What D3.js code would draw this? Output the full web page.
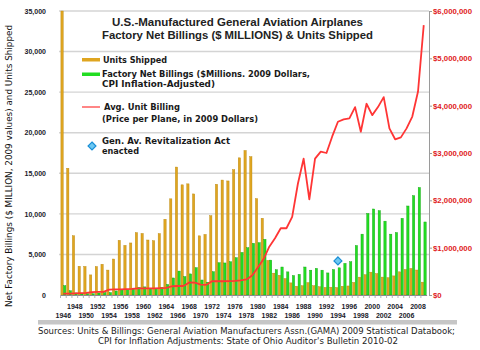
<!DOCTYPE html>
<html>
<head>
<meta charset="utf-8">
<script src="https://cdn.jsdelivr.net/npm/d3@7"></script>
<style>
  body { margin: 0; background: #fff; }
  svg { display: block; }
</style>
</head>
<body>
<script>
// years shown on the x axis
const years = [1946,1947,1948,1949,1950,1951,1952,1953,1954,1955,1956,1957,1958,1959,
  1960,1961,1962,1963,1964,1965,1966,1967,1968,1969,1970,1971,1972,1973,1974,1975,
  1976,1977,1978,1979,1980,1981,1982,1983,1984,1985,1986,1987,1988,1989,1990,1991,
  1992,1993,1994,1995,1996,1997,1998,1999,2000,2001,2002,2003,2004,2005,2006,2007,
  2008,2009];

// units shipped
const unitsShipped = [35000,15617,7302,3545,3520,2477,3509,3788,3071,4434,6738,6118,
  6414,7689,7588,6778,6697,7569,9336,11852,15768,13577,13698,12457,7292,7466,9774,
  13646,14166,14056,15451,16904,17811,17048,11877,9457,4266,2691,2431,2029,1495,1085,
  1143,1535,1144,1021,941,964,928,1077,1115,1549,2200,2504,2816,2634,2207,2137,2355,
  2857,3147,3279,3079,1585];

// factory net billings, $ millions (2009 dollars)
const netBillings = [1150,520,250,180,180,150,250,300,300,500,650,650,750,950,1000,750,
  800,950,1300,2100,2950,2270,2600,3370,1850,1580,2870,3980,3950,4100,4600,5250,5830,
  6370,6450,6860,4300,3120,3450,2850,2400,2550,3450,3060,3280,3060,2720,3140,3350,3900,
  4100,6100,7500,10050,10600,10400,9100,7500,7700,9450,10970,12250,13250,9000];

// average unit billing, 2009 dollars
const avgBilling = [30000,30000,35000,40000,45000,60000,65000,65000,115000,120000,
  120000,125000,130000,140000,140000,140000,140000,145000,150000,185000,190000,190000,
  265000,260000,220000,215000,290000,290000,290000,295000,300000,310000,330000,410000,
  580000,760000,1020000,1200000,1410000,1410000,1650000,2350000,2880000,2020000,
  2880000,3030000,3000000,3350000,3660000,3710000,3730000,3970000,3450000,4040000,
  3800000,3970000,4180000,3520000,3290000,3330000,3520000,3770000,4300000,5700000];

const leftTicks = [0,5000,10000,15000,20000,25000,30000,35000];
const rightTicks = [0,1000000,2000000,3000000,4000000,5000000,6000000];
const actYear = 1994;
const actLevel = 720000;

const width = 480;
const height = 350;
const marginLeft = 60.5;
const plotRight = 426.6;
const axisRight = 429;
const marginTop = 11;
const baseY = 295;

const data = years.map((y, i) => ({
  year: y, units: unitsShipped[i], billings: netBillings[i], avg: avgBilling[i]
}));

const svg = d3.select("body").append("svg")
    .attr("width", width)
    .attr("height", height)
    .attr("viewBox", [0, 0, width, height]);

let x = d3.scaleBand()
    .domain(years)
    .range([marginLeft, plotRight]);

let sub = d3.scaleBand()
    .domain(["units", "billings"])
    .range([0, x.bandwidth()])
    .paddingInner(0.12)
    .paddingOuter(0.15);

let y = d3.scaleLinear().domain([0, 35000]).range([baseY, marginTop]);
let y2 = d3.scaleLinear().domain([0, 6000000]).range([baseY, marginTop]);

// gridlines
svg.append("g")
    .selectAll("line")
    .data(leftTicks.slice(1))
    .join("line")
    .attr("x1", 59).attr("x2", axisRight)
    .attr("y1", d => y(d)).attr("y2", d => y(d))
    .attr("stroke", "#d4d4d4")
    .attr("stroke-width", 1.4);

// left axis labels
svg.append("g")
    .attr("transform", "translate(53,0)")
    .call(d3.axisLeft(y).tickValues(leftTicks).tickSize(0).tickPadding(7)
      .tickFormat(d3.format(",")))
    .call(g => g.select(".domain").remove())
    .call(g => g.selectAll("text")
      .attr("font-family", "Liberation Sans, Arial, sans-serif")
      .attr("font-weight", "bold")
      .attr("font-size", "7px")
      .attr("fill", "#1a1a2a"));

// right axis
svg.append("g")
    .attr("transform", `translate(${axisRight},0)`)
    .call(d3.axisRight(y2).tickValues(rightTicks).tickSize(3).tickPadding(1)
      .tickFormat(d => "$" + d3.format(",")(d)))
    .call(g => g.select(".domain").attr("stroke", "#9a9a9a"))
    .call(g => g.selectAll(".tick line").attr("stroke", "#9a9a9a"))
    .call(g => g.selectAll("text")
      .attr("font-family", "Liberation Sans, Arial, sans-serif")
      .attr("font-weight", "bold")
      .attr("font-size", "7.8px")
      .attr("fill", "#e0201b"));

// bars
const bars = svg.append("g");
bars.selectAll(".u")
    .data(data)
    .join("rect")
    .attr("x", d => x(d.year) + sub("units"))
    .attr("y", d => y(d.units))
    .attr("width", sub.bandwidth())
    .attr("height", d => y(0) - y(d.units))
    .attr("fill", "#dfa520")
    .attr("stroke", "#b8860b")
    .attr("stroke-width", 0.4);

bars.selectAll(".b")
    .data(data)
    .join("rect")
    .attr("x", d => x(d.year) + sub("billings"))
    .attr("y", d => y(d.billings))
    .attr("width", sub.bandwidth())
    .attr("height", d => y(0) - y(d.billings))
    .attr("fill", "#22dd22")
    .attr("stroke", "#10a010")
    .attr("stroke-width", 0.4);

// x axis
svg.append("g")
    .attr("transform", `translate(0,${baseY})`)
    .call(d3.axisBottom(x).tickValues([]).tickSizeOuter(0))
    .call(g => g.select(".domain").attr("stroke", "#8a8a8a"));

svg.append("g")
    .selectAll("line")
    .data(years)
    .join("line")
    .attr("x1", d => x(d)).attr("x2", d => x(d))
    .attr("y1", baseY).attr("y2", baseY + 3)
    .attr("stroke", "#a0a0a0")
    .attr("stroke-width", 0.8);

svg.append("g")
    .selectAll("text")
    .data(years.filter(d => (d - 1946) % 2 === 0))
    .join("text")
    .attr("x", d => x(d) + x.bandwidth() / 2)
    .attr("y", d => ((d - 1946) / 2) % 2 === 1 ? 308.5 : 317.5)
    .attr("text-anchor", "middle")
    .attr("font-family", "Liberation Sans, Arial, sans-serif")
    .attr("font-weight", "bold")
    .attr("font-size", "7px")
    .attr("fill", "#1a1a2a")
    .text(d => d);

// avg unit billing line
svg.append("path")
    .datum(data)
    .attr("fill", "none")
    .attr("stroke", "#ff3535")
    .attr("stroke-width", 1.8)
    .attr("stroke-linejoin", "round")
    .attr("d", d3.line()
      .x(d => x(d.year) + x.bandwidth() / 2)
      .y(d => y2(d.avg)));

// revitalization act marker
const diamond = d3.symbol().type(d3.symbolDiamond2).size(40);
svg.append("path")
    .attr("d", diamond)
    .attr("transform", `translate(${x(actYear) + x.bandwidth() / 2},${y2(actLevel)})`)
    .attr("fill", "#6cc8f2")
    .attr("stroke", "#1b8fd6")
    .attr("stroke-width", 1.2);

// scrollbar-like strip under the axis
svg.append("rect")
    .attr("x", 38).attr("y", 320)
    .attr("width", 419).attr("height", 4.5)
    .attr("fill", "#c6c6c6");

// title
const title = svg.append("g")
    .attr("font-family", "Liberation Sans, Arial, sans-serif")
    .attr("font-weight", "bold")
    .attr("font-size", "11.5px")
    .attr("fill", "#222");
title.append("text").attr("x", 112).attr("y", 25.5)
    .attr("textLength", 251).attr("lengthAdjust", "spacingAndGlyphs")
    .text("U.S.-Manufactured General Aviation Airplanes");
title.append("text").attr("x", 102).attr("y", 38.5)
    .attr("textLength", 271).attr("lengthAdjust", "spacingAndGlyphs")
    .text("Factory Net Billings ($ MILLIONS) & Units Shipped");

// legend
const legend = svg.append("g")
    .attr("font-family", "DejaVu Sans, Verdana, sans-serif")
    .attr("font-weight", "bold")
    .attr("font-size", "8.5px")
    .attr("fill", "#1a1a1a");

legend.append("rect").attr("x", 82).attr("y", 58).attr("width", 18).attr("height", 3.5)
    .attr("fill", "#dfa520");
legend.append("rect").attr("x", 82).attr("y", 72.5).attr("width", 18).attr("height", 3.5)
    .attr("fill", "#22dd22");
legend.append("line").attr("x1", 82).attr("x2", 100).attr("y1", 107).attr("y2", 107)
    .attr("stroke", "#ff3535").attr("stroke-width", 1.2);
legend.append("path")
    .attr("d", diamond)
    .attr("transform", "translate(92,146)")
    .attr("fill", "#6cc8f2")
    .attr("stroke", "#1b8fd6")
    .attr("stroke-width", 1.2);

const legendLines = [
  { t: "Units Shipped", x: 103, y: 62.5, w: 64 },
  { t: "Factory Net Billings ($Millions. 2009 Dollars,", x: 102, y: 77, w: 208 },
  { t: "CPI Inflation-Adjusted)", x: 102, y: 87, w: 113 },
  { t: "Avg. Unit Billing", x: 104, y: 110, w: 76 },
  { t: "(Price per Plane, in 2009 Dollars)", x: 102, y: 121.5, w: 156 },
  { t: "Gen. Av. Revitalization Act", x: 102, y: 144, w: 128 },
  { t: "enacted", x: 102, y: 154, w: 37 }
];
legend.selectAll("text")
    .data(legendLines)
    .join("text")
    .attr("x", d => d.x)
    .attr("y", d => d.y)
    .attr("textLength", d => d.w)
    .attr("lengthAdjust", "spacingAndGlyphs")
    .text(d => d.t);

// y axis title
svg.append("text")
    .attr("transform", "translate(12,166) rotate(-90)")
    .attr("text-anchor", "middle")
    .attr("font-family", "DejaVu Sans, Verdana, sans-serif")
    .attr("font-size", "8.5px")
    .attr("fill", "#111")
    .attr("textLength", 282)
    .attr("lengthAdjust", "spacingAndGlyphs")
    .text("Net Factory Billings ($ MILLION, 2009 values) and Units Shipped");

// sources
const src = svg.append("g")
    .attr("font-family", "DejaVu Sans, Verdana, sans-serif")
    .attr("font-size", "8px")
    .attr("fill", "#222");
src.append("text").attr("x", 38).attr("y", 333.5)
    .attr("textLength", 417).attr("lengthAdjust", "spacingAndGlyphs")
    .text("Sources: Units & Billings: General Aviation Manufacturers Assn.(GAMA) 2009 Statistical Databook;");
src.append("text").attr("x", 98).attr("y", 343.5)
    .attr("textLength", 300).attr("lengthAdjust", "spacingAndGlyphs")
    .text("CPI for Inflation Adjustments: State of Ohio Auditor's Bulletin 2010-02");
</script>
</body>
</html>
